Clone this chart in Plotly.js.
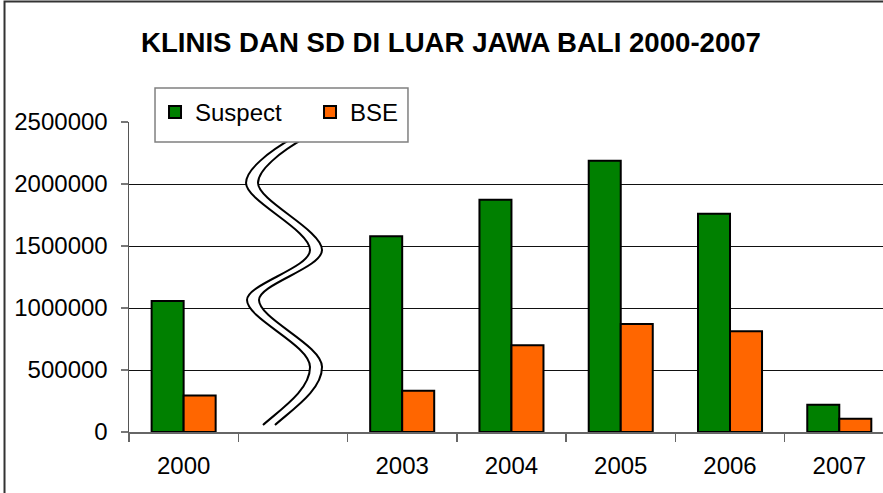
<!DOCTYPE html>
<html>
<head>
<meta charset="utf-8">
<script src="https://cdn.plot.ly/plotly-3.0.1.min.js"></script>
<style>
html,body{margin:0;padding:0;background:#fff;overflow:hidden;}
#chart{width:883px;height:493px;}
</style>
</head>
<body>
<div id="chart"></div>
<script>
// ---- data ----
var categories = ['2000', ' ', '2003', '2004', '2005', '2006', '2007'];
var suspectValues = [1056000, null, 1579000, 1872000, 2187000, 1761000, 220000];
var bseValues = [295000, null, 332000, 700000, 871000, 812000, 107000];
var seriesNames = ['Suspect', 'BSE'];
var yTickValues = [0, 500000, 1000000, 1500000, 2000000, 2500000];
var titleText = 'KLINIS DAN SD DI LUAR JAWA BALI 2000-2007';

// ---- layout geometry (pixels) ----
var W = 883, H = 493;
var M = {l: 129, r: 0, t: 122, b: 61};
var PW = W - M.l - M.r, PH = H - M.t - M.b;
function px(x){ return ((x - M.l) / PW).toFixed(4); }
function py(y){ return ((H - M.b - y) / PH).toFixed(4); }

// axis-break decoration (wavy double line), defined in pixels
function wave(dx){
  var p = function(x, y){ return px(x + dx) + ',' + py(y); };
  return 'M' + p(293,138) +
    ' C' + p(268,152) + ' ' + p(246,170) + ' ' + p(246,183) +
    ' C' + p(246,201) + ' ' + p(310,230) + ' ' + p(310,250) +
    ' C' + p(310,268) + ' ' + p(247,284) + ' ' + p(247,300) +
    ' C' + p(247,319) + ' ' + p(310,345) + ' ' + p(310,367) +
    ' C' + p(310,390) + ' ' + p(281,409) + ' ' + p(263,425);
}
function waveBack(dx){
  var p = function(x, y){ return px(x + dx) + ',' + py(y); };
  return ' L' + p(263,425) +
    ' C' + p(281,409) + ' ' + p(310,390) + ' ' + p(310,367) +
    ' C' + p(310,345) + ' ' + p(247,319) + ' ' + p(247,300) +
    ' C' + p(247,284) + ' ' + p(310,268) + ' ' + p(310,250) +
    ' C' + p(310,230) + ' ' + p(246,201) + ' ' + p(246,183) +
    ' C' + p(246,170) + ' ' + p(268,152) + ' ' + p(293,138) + ' Z';
}

var FONT = 'Arial, "Liberation Sans", sans-serif';

var traces = [
  {type: 'bar', name: seriesNames[0], x: categories, y: suspectValues,
   marker: {color: '#008000', line: {color: '#000', width: 2}}},
  {type: 'bar', name: seriesNames[1], x: categories, y: bseValues,
   marker: {color: '#FF6600', line: {color: '#000', width: 2}}}
];

var layout = {
  width: W, height: H,
  margin: M,
  paper_bgcolor: '#fff', plot_bgcolor: '#fff',
  font: {family: FONT, size: 24, color: '#000'},
  title: {text: titleText, font: {family: FONT, size: 27.6, color: '#000', weight: 'bold'},
          x: 451 / W, xref: 'container', xanchor: 'center',
          y: 1 - 42 / H, yref: 'container', yanchor: 'middle'},
  barmode: 'group', bargap: 0.414, bargroupgap: 0,
  showlegend: true,
  legend: {orientation: 'h', x: Number(px(155)), y: Number(py(90)), xanchor: 'left', yanchor: 'top',
           bgcolor: 'rgba(0,0,0,0)', borderwidth: 0,
           font: {family: FONT, size: 24, color: '#000'},
           entrywidth: 110, entrywidthmode: 'pixels', traceorder: 'normal'},
  xaxis: {type: 'category', range: [-0.5, 6.4], fixedrange: true,
          showline: true, linecolor: '#666', linewidth: 1.5,
          ticks: 'outside', tickson: 'boundaries', ticklen: 8, tickcolor: '#666', tickwidth: 1.5,
          showgrid: false, zeroline: false, ticklabelstandoff: 12,
          tickfont: {family: FONT, size: 24, color: '#000'}},
  yaxis: {range: [0, 2500000], tickvals: yTickValues, tickformat: 'd', fixedrange: true,
          showline: true, linecolor: '#555', linewidth: 1.5,
          ticks: 'outside', ticklen: 7, tickcolor: '#777', tickwidth: 1.5,
          showgrid: true, gridcolor: '#111', gridwidth: 1, zeroline: false,
          ticklabelstandoff: 8,
          tickfont: {family: FONT, size: 24, color: '#000'}},
  shapes: [
    {type: 'rect', xref: 'paper', yref: 'paper', x0: px(4.5), x1: px(900), y0: py(510), y1: py(1.5),
     line: {color: '#333', width: 2}, fillcolor: 'rgba(0,0,0,0)', layer: 'above'},
    {type: 'path', xref: 'paper', yref: 'paper', path: wave(0) + waveBack(12),
     fillcolor: '#fff', line: {width: 0}, layer: 'above'},
    {type: 'path', xref: 'paper', yref: 'paper', path: wave(0), line: {color: '#000', width: 2}, layer: 'above'},
    {type: 'path', xref: 'paper', yref: 'paper', path: wave(12), line: {color: '#000', width: 2}, layer: 'above'},
    // legend frame
    {type: 'rect', xref: 'paper', yref: 'paper', x0: px(155), x1: px(408), y0: py(142), y1: py(88),
     line: {color: '#808080', width: 1.5}, fillcolor: '#fff', layer: 'above'}
  ]
};

Plotly.newPlot('chart', traces, layout, {displayModeBar: false, staticPlot: true});
</script>
</body>
</html>
